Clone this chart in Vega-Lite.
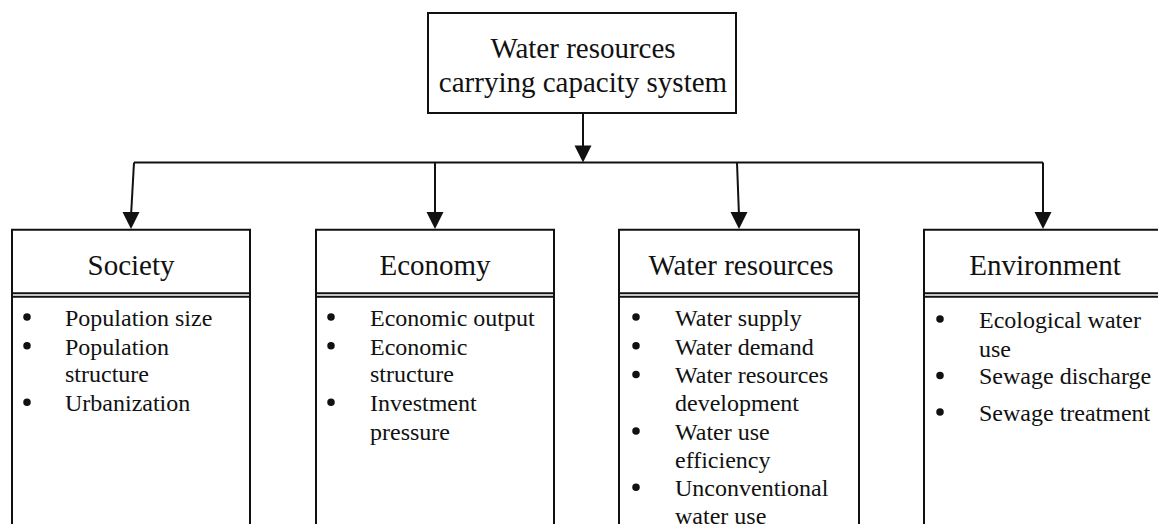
{
  "$schema": "https://vega.github.io/schema/vega-lite/v6.json",
  "width": 1158,
  "height": 529,
  "autosize": {"type": "fit", "contains": "padding"},
  "padding": 0,
  "background": "white",
  "config": {"view": {"stroke": null}},
  "datasets": {
    "boxes": [
      {"name": "top", "x": 428, "x2": 736, "y": 13, "y2": 114},
      {"name": "Society", "x": 12, "x2": 250, "y": 232, "y2": 560},
      {"name": "Economy", "x": 316, "x2": 554, "y": 232, "y2": 560},
      {"name": "Water resources", "x": 619, "x2": 859, "y": 232, "y2": 560},
      {"name": "Environment", "x": 924, "x2": 1175, "y": 232, "y2": 560}
    ],
    "segments": [
      {"x": 583, "x2": 583, "y": 114, "y2": 152},
      {"x": 134, "x2": 1043, "y": 164, "y2": 164},
      {"x": 134, "x2": 131, "y": 164, "y2": 218},
      {"x": 435, "x2": 435, "y": 164, "y2": 218},
      {"x": 737, "x2": 739, "y": 164, "y2": 218},
      {"x": 1043, "x2": 1043, "y": 164, "y2": 218},
      {"x": 12, "x2": 250, "y": 296, "y2": 296},
      {"x": 12, "x2": 250, "y": 299.5, "y2": 299.5},
      {"x": 316, "x2": 554, "y": 296, "y2": 296},
      {"x": 316, "x2": 554, "y": 299.5, "y2": 299.5},
      {"x": 619, "x2": 859, "y": 296, "y2": 296},
      {"x": 619, "x2": 859, "y": 299.5, "y2": 299.5},
      {"x": 924, "x2": 1175, "y": 296, "y2": 296},
      {"x": 924, "x2": 1175, "y": 299.5, "y2": 299.5}
    ],
    "arrows": [
      {"x": 583, "y": 155.5},
      {"x": 131, "y": 222.5},
      {"x": 435, "y": 222.5},
      {"x": 739, "y": 222.5},
      {"x": 1043, "y": 222.5}
    ],
    "titles": [
      {"x": 583, "y": 47, "text": "Water resources"},
      {"x": 583, "y": 82, "text": "carrying capacity system"},
      {"x": 131, "y": 267, "text": "Society"},
      {"x": 435, "y": 267, "text": "Economy"},
      {"x": 741, "y": 267, "text": "Water resources"},
      {"x": 1045, "y": 267, "text": "Environment"}
    ],
    "items": [
      {"x": 65, "y": 320, "text": "Population size"},
      {"x": 65, "y": 349, "text": "Population"},
      {"x": 65, "y": 377, "text": "structure"},
      {"x": 65, "y": 406, "text": "Urbanization"},
      {"x": 370, "y": 320, "text": "Economic output"},
      {"x": 370, "y": 349, "text": "Economic"},
      {"x": 370, "y": 377, "text": "structure"},
      {"x": 370, "y": 406, "text": "Investment"},
      {"x": 370, "y": 435, "text": "pressure"},
      {"x": 675, "y": 320, "text": "Water supply"},
      {"x": 675, "y": 349, "text": "Water demand"},
      {"x": 675, "y": 378, "text": "Water resources"},
      {"x": 675, "y": 406, "text": "development"},
      {"x": 675, "y": 435, "text": "Water use"},
      {"x": 675, "y": 463, "text": "efficiency"},
      {"x": 675, "y": 492, "text": "Unconventional"},
      {"x": 675, "y": 520, "text": "water use"},
      {"x": 979, "y": 322, "text": "Ecological water"},
      {"x": 979, "y": 351, "text": "use"},
      {"x": 979, "y": 379, "text": "Sewage discharge"},
      {"x": 979, "y": 416, "text": "Sewage treatment"}
    ],
    "bullets": [
      {"x": 27, "y": 320}, {"x": 27, "y": 349}, {"x": 27, "y": 406},
      {"x": 331, "y": 320}, {"x": 331, "y": 349}, {"x": 331, "y": 406},
      {"x": 636, "y": 320}, {"x": 636, "y": 349}, {"x": 636, "y": 378}, {"x": 636, "y": 435}, {"x": 636, "y": 492},
      {"x": 940, "y": 322}, {"x": 940, "y": 379}, {"x": 940, "y": 416}
    ]
  },
  "layer": [
    {
      "data": {"name": "boxes"},
      "mark": {"type": "rect", "fill": "white", "stroke": "#111", "strokeWidth": 2, "clip": true},
      "encoding": {
        "x": {"field": "x", "type": "quantitative", "scale": {"domain": [0, 1158], "nice": false, "zero": false}, "axis": null},
        "x2": {"field": "x2"},
        "y": {"field": "y", "type": "quantitative", "scale": {"domain": [0, 529], "reverse": true, "nice": false, "zero": false}, "axis": null},
        "y2": {"field": "y2"}
      }
    },
    {
      "data": {"name": "segments"},
      "mark": {"type": "rule", "color": "#111", "strokeWidth": 2, "clip": true},
      "encoding": {
        "x": {"field": "x", "type": "quantitative"},
        "x2": {"field": "x2"},
        "y": {"field": "y", "type": "quantitative"},
        "y2": {"field": "y2"}
      }
    },
    {
      "data": {"name": "arrows"},
      "mark": {"type": "point", "shape": "M-1,-1L1,-1L0,1Z", "filled": true, "color": "#111", "size": 289, "opacity": 1},
      "encoding": {
        "x": {"field": "x", "type": "quantitative"},
        "y": {"field": "y", "type": "quantitative"}
      }
    },
    {
      "data": {"name": "bullets"},
      "mark": {"type": "point", "shape": "circle", "filled": true, "color": "#111", "size": 56, "opacity": 1},
      "encoding": {
        "x": {"field": "x", "type": "quantitative"},
        "y": {"field": "y", "type": "quantitative"}
      }
    },
    {
      "data": {"name": "titles"},
      "mark": {"type": "text", "font": "Liberation Serif", "fontSize": 29, "align": "center", "baseline": "middle", "dy": 2, "color": "#111"},
      "encoding": {
        "x": {"field": "x", "type": "quantitative"},
        "y": {"field": "y", "type": "quantitative"},
        "text": {"field": "text"}
      }
    },
    {
      "data": {"name": "items"},
      "mark": {"type": "text", "font": "Liberation Serif", "fontSize": 24, "align": "left", "baseline": "middle", "dy": 2, "color": "#111"},
      "encoding": {
        "x": {"field": "x", "type": "quantitative"},
        "y": {"field": "y", "type": "quantitative"},
        "text": {"field": "text"}
      }
    }
  ]
}
